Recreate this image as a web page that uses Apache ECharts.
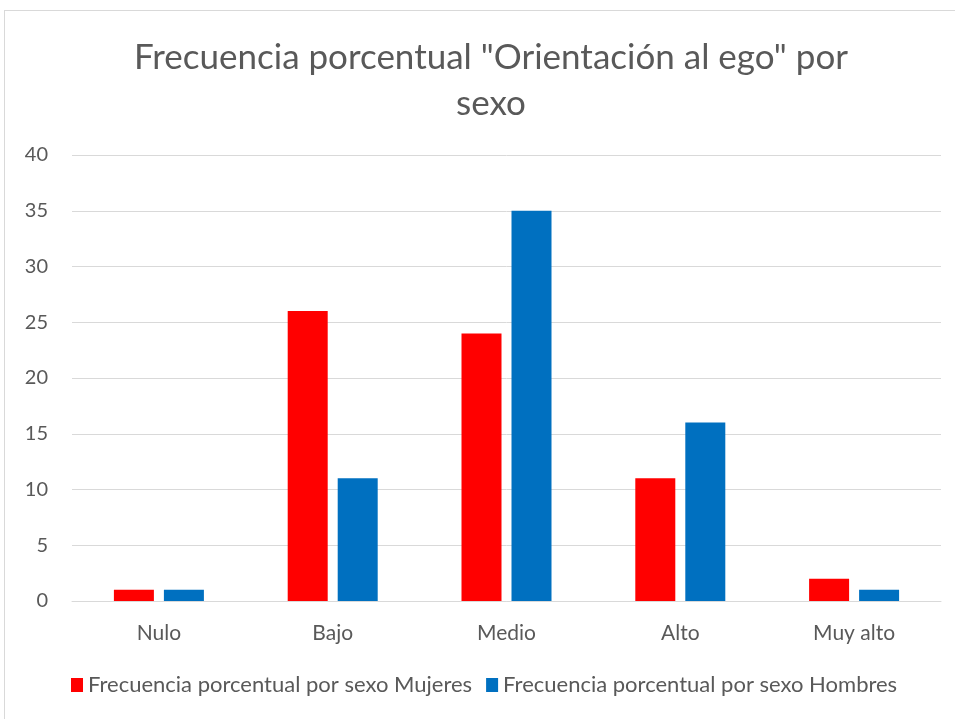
<!DOCTYPE html>
<html>
<head>
<meta charset="utf-8">
<script src="https://cdn.jsdelivr.net/npm/echarts@6/dist/echarts.min.js"></script>
<style>
  html, body { margin: 0; padding: 0; background: #fff; }
  #main { width: 955px; height: 719px; }
  #frame { position: absolute; left: 4px; top: 10px; width: 960px; height: 720px; border: 1px solid #d9d9d9; pointer-events: none; }
</style>
</head>
<body>
<div id="main"></div>
<div id="frame"></div>
<script>
const categories = ['Nulo', 'Bajo', 'Medio', 'Alto', 'Muy alto']
const mujeres = [1, 26, 24, 11, 2]
const hombres = [1, 11, 35, 16, 1]
const seriesNames = ['Frecuencia porcentual por sexo Mujeres', 'Frecuencia porcentual por sexo Hombres']

const chart = echarts.init(document.getElementById('main'))
const font = 'Lato, "Open Sans", sans-serif'

const option = {
  animation: false,
  textStyle: { fontFamily: font },
  title: {
    text: 'Frecuencia porcentual "Orientación al ego" por\nsexo',
    left: 486,
    textAlign: 'center',
    top: 30,
    textStyle: { fontFamily: font, fontSize: 35, fontWeight: 'normal', color: '#595959', lineHeight: 46 }
  },
  color: ['#ff0000', '#0070c0'],
  legend: {
    bottom: 18,
    left: 66,
    itemWidth: 12,
    itemHeight: 14,
    itemGap: 14,
    icon: 'rect',
    textStyle: { fontFamily: font, fontSize: 22, color: '#595959' },
    data: seriesNames
  },
  grid: { left: 72, right: 14, top: 155, bottom: 118 },
  xAxis: {
    type: 'category',
    data: categories,
    axisLine: { lineStyle: { color: '#d9d9d9' } },
    axisTick: { show: false },
    axisLabel: { fontFamily: font, fontSize: 21, color: '#595959', margin: 22 }
  },
  yAxis: {
    type: 'value',
    min: 0,
    max: 40,
    interval: 5,
    axisLine: { show: false },
    axisTick: { show: false },
    axisLabel: { fontFamily: font, fontSize: 20, color: '#595959', margin: 24 },
    splitLine: { lineStyle: { color: '#d9d9d9' } }
  },
  series: [{
    name: seriesNames[0],
    type: 'bar',
    data: mujeres,
    barWidth: 40,
    barGap: '25%'
  }, {
    name: seriesNames[1],
    type: 'bar',
    data: hombres,
    barWidth: 40,
    barGap: '25%'
  }]
}

chart.setOption(option)
</script>
</body>
</html>
